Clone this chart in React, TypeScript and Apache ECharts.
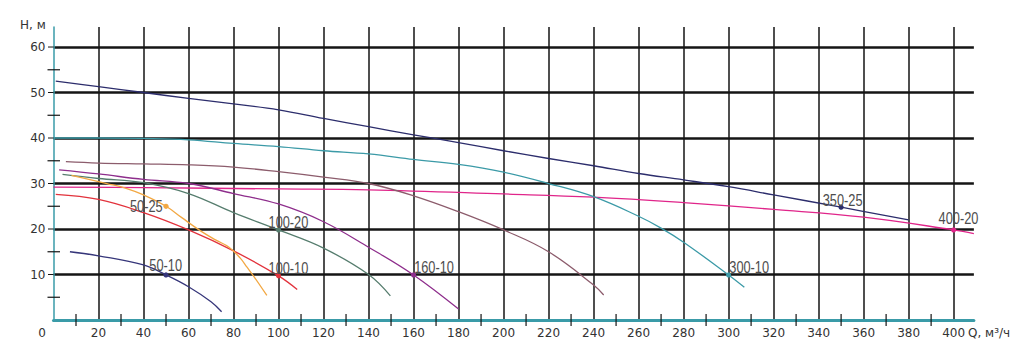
import React, { useEffect, useRef } from "react";
import * as echarts from "echarts";

// ---- Data (Q, м³/ч ; H, м) ----
const curve350_25: [number, number][] = [
  [1, 52.5], [20, 51.3], [40, 50.0], [60, 48.7], [80, 47.5], [100, 46.2], [120, 44.3],
  [140, 42.5], [160, 40.7], [180, 39.0], [200, 37.2], [220, 35.5], [240, 33.9],
  [260, 32.2], [280, 30.8], [300, 29.3], [320, 27.5], [350, 24.8], [380, 22.0],
];
const curve400_20: [number, number][] = [
  [0, 29.2], [40, 29.1], [100, 28.8], [140, 28.6], [200, 27.7], [240, 27.0],
  [280, 25.8], [320, 24.3], [360, 22.6], [400, 19.8], [409, 19.0],
];
const curve300_10: [number, number][] = [
  [0, 40.0], [20, 40.0], [40, 39.9], [60, 39.6], [80, 38.8], [100, 38.1], [120, 37.2],
  [140, 36.5], [160, 35.3], [180, 34.2], [200, 32.5], [220, 30.0], [240, 27.1],
  [260, 22.8], [270, 20.2], [280, 17.1], [300, 9.9], [307, 7.2],
];
const curve250_20: [number, number][] = [
  [5.5, 34.8], [20, 34.5], [40, 34.3], [60, 34.1], [80, 33.6], [100, 32.6], [120, 31.4],
  [140, 30.0], [160, 27.3], [180, 23.8], [200, 19.8], [220, 15.0], [240, 7.7], [244.5, 5.5],
];
const curve160_10: [number, number][] = [
  [2.5, 33.0], [20, 32.1], [40, 30.9], [60, 30.0], [80, 27.8], [100, 25.5], [120, 21.6],
  [140, 16.0], [160, 9.9], [180, 2.4],
];
const curve100_20: [number, number][] = [
  [4, 32.0], [20, 31.1], [40, 30.2], [60, 27.8], [80, 23.6], [100, 19.8], [120, 15.8],
  [140, 10.0], [149.7, 5.3],
];
const curve100_10: [number, number][] = [
  [1, 27.6], [20, 26.5], [40, 23.6], [60, 19.8], [80, 15.2], [100, 9.7], [108.3, 6.7],
];
const curve50_25: [number, number][] = [
  [8, 31.8], [23.7, 30.0], [32.6, 28.9], [40, 27.5], [50, 25.0], [57, 22.5], [65, 19.7],
  [72, 17.6], [78, 16.0], [83, 13.6], [86, 11.6], [89, 9.6], [94.8, 5.4],
];
const curve50_10: [number, number][] = [
  [7.3, 15.0], [20, 14.1], [40, 12.1], [50, 9.9], [60, 7.3], [70, 4.0], [74.7, 1.8],
];

const curveNames = ["350-25", "400-20", "300-10", "250-20", "160-10", "100-20", "100-10", "50-25", "50-10"];
const curves = [curve350_25, curve400_20, curve300_10, curve250_20, curve160_10, curve100_20, curve100_10, curve50_25, curve50_10];

// marked points with labels
const markerLabels = ["350-25", "400-20", "300-10", "160-10", "100-20", "100-10", "50-25", "50-10"];
const markerQ = [350, 400, 300, 160, 100, 100, 50, 50];
const markerH = [24.8, 19.8, 9.9, 9.9, 19.8, 9.7, 25.0, 9.9];

// axis ranges and tick values
const qMin = 0, qMax = 409, qStep = 20;
const hMin = 0, hMax = 64.4, hStep = 10;
const qMinorTicks = [10, 30, 50, 70, 90, 110, 130, 150, 170, 190, 210, 230, 250, 270, 290, 310, 330, 350, 370, 390];
const hMajorTicks = [10, 20, 30, 40, 50, 60];
const hMinorTicks = [5, 15, 25, 35, 45, 55];

// ---- Styles ----
const curveColors = ["#2c2d6c", "#e0258a", "#3b9aa7", "#8c5c6c", "#8e2e8c", "#567d6e", "#e2323c", "#f2a843", "#36367a"];
const markerColors = ["#2c2d6c", "#e0258a", "#3b9aa7", "#8e2e8c", "#567d6e", "#e2323c", "#f2a843", "#36367a"];
// label placement relative to the marker: [dx, dy (text middle)], align
const labelDx = [-18.4, -15, 0.7, 0.6, -10, -10, -3.4, -16.7];
const labelDy = [-6.5, -11.5, -7.3, -7.8, -7.1, -7.3, -0.2, -9.8];
const labelAlign = ["left", "left", "left", "left", "left", "left", "right", "left"];

const TEAL = "#3a9ba8";
const INK = "#151515";
const AXIS_FONT = "'DejaVu Sans', sans-serif";
const LABEL_FONT = "'Liberation Sans', Arial, sans-serif";

export default function App() {
  const ref = useRef<HTMLDivElement>(null);
  useEffect(() => {
    if (!ref.current) return;
    const chart = echarts.init(ref.current, undefined, { renderer: "svg" });
    const axisText = { color: "#333", fontFamily: AXIS_FONT, fontSize: 12 };

    const lineSeries = curves.map((data, i) => ({
      name: curveNames[i],
      type: "line",
      data,
      smooth: 0.4,
      symbol: "none",
      lineStyle: { color: curveColors[i], width: 1.3 },
      z: 3,
      silent: true,
    }));

    const markerData = markerQ.map((q, i) => [q, markerH[i], i]);

    // tick marks drawn through the axis scales: [value on x, value on y]
    const tickSeries = (data: number[][], seg: (p: number[]) => number[], width: number) => ({
      type: "custom",
      data,
      z: 4,
      silent: true,
      renderItem: (_: any, api: any) => {
        const p = api.coord([api.value(0), api.value(1)]);
        const s = seg(p);
        return {
          type: "line",
          shape: { x1: s[0], y1: s[1], x2: s[2], y2: s[3] },
          style: { stroke: INK, lineWidth: width },
        };
      },
    });

    chart.setOption({
      animation: false,
      backgroundColor: "#ffffff",
      grid: { left: 53.5, right: 1031 - (53.5 + 2.2503 * qMax), top: 27, bottom: 34, containLabel: false },
      xAxis: {
        type: "value",
        min: qMin,
        max: qMax,
        interval: qStep,
        position: "bottom",
        axisLine: { show: true, onZero: false, lineStyle: { color: TEAL, width: 3 } },
        axisTick: { show: false },
        axisLabel: {
          ...axisText,
          margin: 7,
          showMaxLabel: false,
          formatter: (v: number) => (v === 0 ? "{z|0}" : String(v)),
          rich: { z: { ...axisText, padding: [0, 23, 0, 0] } },
        },
        splitLine: { show: true, showMinLine: false, showMaxLine: false, lineStyle: { color: INK, width: 1.5 } },
      },
      yAxis: {
        type: "value",
        min: hMin,
        max: hMax,
        interval: hStep,
        position: "left",
        axisLine: { show: true, onZero: false, lineStyle: { color: TEAL, width: 1.5 } },
        axisTick: { show: false },
        axisLabel: {
          ...axisText,
          margin: 8,
          showMaxLabel: false,
          formatter: (v: number) => (v === 0 ? "" : String(v)),
        },
        splitLine: { show: true, showMinLine: false, showMaxLine: false, lineStyle: { color: INK, width: 2.5 } },
      },
      graphic: [
        { type: "text", left: 20, top: 19, style: { text: "H, м", ...axisText, fill: "#333" } },
        { type: "text", left: 968, top: 327, style: { text: "Q, м³/ч", ...axisText, fill: "#333" } },
      ],
      series: [
        tickSeries(qMinorTicks.map((q) => [q, hMin]), (p) => [p[0], p[1] - 6, p[0], p[1] + 6], 1.2),
        tickSeries(hMinorTicks.map((h) => [qMin, h]), (p) => [p[0] - 6, p[1], p[0] + 6.5, p[1]], 1.2),
        tickSeries(hMajorTicks.map((h) => [qMin, h]), (p) => [p[0] - 5.5, p[1], p[0], p[1]], 1),
        ...lineSeries,
        {
          type: "custom",
          data: markerData,
          z: 5,
          silent: true,
          renderItem: (params: any, api: any) => {
            const i = params.dataIndex;
            const p = api.coord([api.value(0), api.value(1)]);
            return {
              type: "group",
              children: [
                { type: "circle", shape: { cx: p[0], cy: p[1], r: 2.6 }, style: { fill: markerColors[i] } },
                {
                  type: "text",
                  x: p[0] + labelDx[i],
                  y: p[1] + labelDy[i],
                  scaleX: 0.8,
                  style: {
                    text: markerLabels[i],
                    fill: "#4d4d4d",
                    fontFamily: LABEL_FONT,
                    fontSize: 16,
                    align: labelAlign[i],
                    verticalAlign: "middle",
                  },
                },
              ],
            };
          },
        },
      ],
    });
    return () => chart.dispose();
  }, []);
  return <div ref={ref} style={{ position: "absolute", left: 0, top: 0, width: 1031, height: 354 }} />;
}
